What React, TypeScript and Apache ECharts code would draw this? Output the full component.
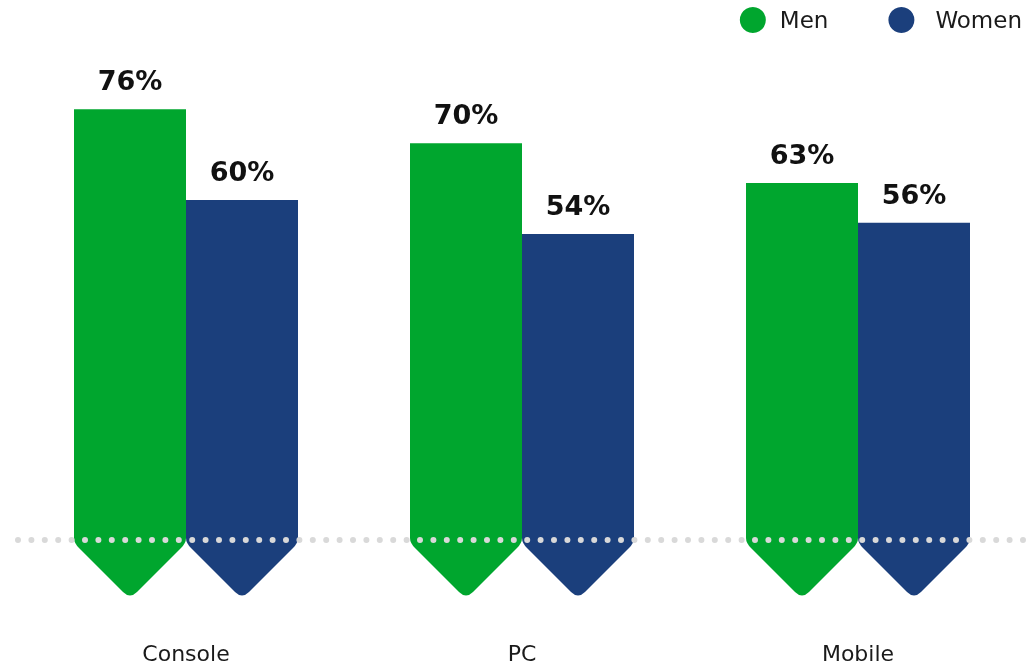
import React, { useEffect, useRef } from "react";
import * as echarts from "echarts";

const categories = ["Console", "PC", "Mobile"];
const menValues = [76, 70, 63];
const womenValues = [60, 54, 56];
const seriesNames = ["Men", "Women"];
const colors = ["#00a62e", "#1b3f7c"];

function makeRenderItem(side: number) {
  return (params: any, api: any) => {
    const cat = api.value(0);
    const val = api.value(1);
    const top = api.coord([cat, val]);
    const base = api.coord([cat, 0]);
    const band = api.size([1, 0])[0];
    const w = band / 3;
    const xc0 = top[0];
    const x0 = side === 0 ? xc0 - w : xc0;
    const x1 = x0 + w;
    const xc = (x0 + x1) / 2;
    const hw = w / 2;
    const ys = base[1] + 3;
    const ytip = ys + hw;
    const yTop = top[1];
    const r = 5;
    const t = 7;
    const d =
      `M${x0},${yTop} L${x1},${yTop} L${x1},${ys - r} ` +
      `Q${x1},${ys} ${x1 - r},${ys + r} ` +
      `L${xc + t},${ytip - t} Q${xc},${ytip} ${xc - t},${ytip - t} ` +
      `L${x0 + r},${ys + r} Q${x0},${ys} ${x0},${ys - r} Z`;
    return {
      type: "group",
      children: [
        {
          type: "path",
          shape: { pathData: d },
          style: { fill: colors[side] },
        },
        {
          type: "text",
          x: xc,
          y: yTop - 15,
          style: {
            text: val + "%",
            fill: "#111111",
            font: "bold 27px 'DejaVu Sans'",
            textAlign: "center",
            textVerticalAlign: "bottom",
          },
        },
      ],
    };
  };
}

export default function App() {
  const ref = useRef<HTMLDivElement>(null);
  useEffect(() => {
    document.body.style.margin = "0";
    const chart = echarts.init(ref.current!, null, { renderer: "svg" });
    chart.setOption({
      animation: false,
      color: colors,
      legend: {
        data: [
          { name: seriesNames[0], icon: "circle", textStyle: { padding: [0, 0, 0, 9] } },
          { name: seriesNames[1], icon: "circle", textStyle: { padding: [6, 0, 0, 16] } },
        ],
        right: 4,
        top: 7,
        padding: 0,
        itemWidth: 26,
        itemHeight: 26,
        itemGap: 60,
        textStyle: {
          fontSize: 23,
          color: "#1a1a1a",
          fontFamily: "'DejaVu Sans'",
        },
      },
      grid: { left: 18, right: -2, top: 30, bottom: 127 },
      xAxis: {
        type: "category",
        data: categories,
        axisLine: { show: false },
        axisTick: { show: false },
        axisLabel: {
          margin: 102,
          fontSize: 22,
          color: "#1a1a1a",
          fontFamily: "'DejaVu Sans'",
          verticalAlign: "top",
        },
      },
      yAxis: {
        type: "value",
        min: 0,
        max: 90,
        show: false,
        splitLine: { show: false },
      },
      series: [
        {
          name: seriesNames[0],
          type: "custom",
          itemStyle: { color: colors[0] },
          renderItem: makeRenderItem(0),
          data: menValues.map((v, i) => [i, v]),
          z: 2,
        },
        {
          name: seriesNames[1],
          type: "custom",
          itemStyle: { color: colors[1] },
          renderItem: makeRenderItem(1),
          data: womenValues.map((v, i) => [i, v]),
          z: 2,
          markLine: {
            silent: true,
            symbol: "none",
            z: 10,
            label: { show: false },
            lineStyle: {
              color: "#d9d9d9",
              width: 6,
              type: [0, 13.4],
              cap: "round",
            },
            data: [{ yAxis: 0 }],
          },
        },
      ],
    });
    return () => chart.dispose();
  }, []);
  return (
    <div
      ref={ref}
      style={{ position: "fixed", left: 0, top: 0, width: 1026, height: 667 }}
    />
  );
}
